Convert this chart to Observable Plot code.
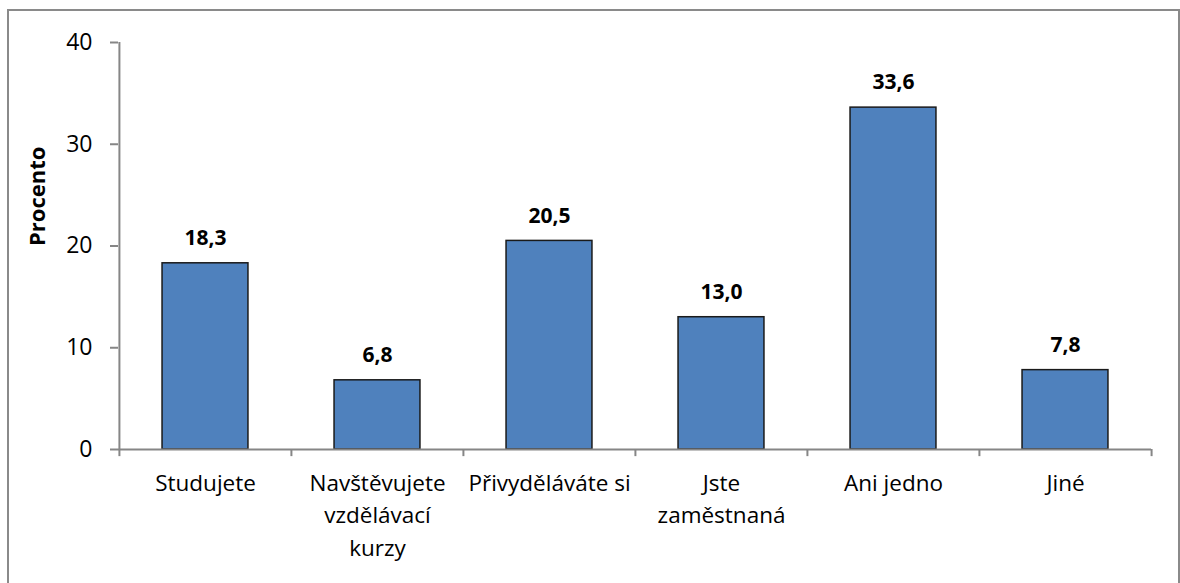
<!DOCTYPE html>
<html>
<head>
<meta charset="utf-8">
<script src="https://cdn.jsdelivr.net/npm/d3@7"></script>
<script src="https://cdn.jsdelivr.net/npm/@observablehq/plot@0.6"></script>
<style>
  html, body { margin: 0; padding: 0; background: #fff; }
  #wrap { position: relative; width: 1180px; height: 583px; overflow: hidden; }
  #border { position: absolute; left: 7px; top: 9px; width: 1173px; height: 600px; border: 2px solid #8a8a8a; box-sizing: border-box; pointer-events: none; }
</style>
</head>
<body>
<div id="wrap"><div id="border"></div></div>
<script>
const categories = ["Studujete", "Navštěvujete\nvzdělávací\nkurzy", "Přivyděláváte si", "Jste\nzaměstnaná", "Ani jedno", "Jiné"];
const values = [18.3, 6.8, 20.5, 13.0, 33.6, 7.8];
const yTicks = [0, 10, 20, 30, 40];
const yLabel = "Procento";

const data = categories.map((c, i) => ({cat: c, v: values[i]}));
const fmt = v => v.toFixed(1).replace(".", ",");
const axisColor = "#868686";
const bw = (1151 - 118) / categories.length;

const chart = Plot.plot({
  width: 1180,
  height: 583,
  marginLeft: 118,
  marginRight: 29,
  marginTop: 42,
  marginBottom: 134,
  style: {fontFamily: "'Open Sans', sans-serif", background: "transparent", overflow: "visible"},
  x: {domain: categories, padding: 0},
  y: {domain: [0, 40]},
  marks: [
    Plot.barY(data, {x: "cat", y: "v", fill: "#4F81BD", stroke: "#1a1a1a", strokeWidth: 1.5, insetLeft: bw / 4, insetRight: bw / 4}),
    Plot.ruleY([0], {stroke: axisColor, strokeWidth: 2}),
    Plot.ruleX([categories[0]], {stroke: axisColor, strokeWidth: 2, dx: -bw / 2}),
    Plot.ruleX(categories, {y1: 0, y2: -0.7, stroke: axisColor, strokeWidth: 2, dx: -bw / 2}),
    Plot.ruleX([categories[categories.length - 1]], {y1: 0, y2: -0.7, stroke: axisColor, strokeWidth: 2, dx: bw / 2}),
    Plot.axisY({ticks: yTicks, tickSize: 8, tickPadding: 18, fontSize: 23, stroke: axisColor, strokeWidth: 2, color: "#000", label: null}),
    Plot.axisX({tickSize: 0, tickPadding: 18, fontSize: 22.5, lineHeight: 1.45, color: "#000", label: null}),
    Plot.text(data, {x: "cat", y: "v", text: d => fmt(d.v), dy: -25, fontSize: 21, fontWeight: "bold", fill: "#000"}),
    Plot.text([yLabel], {frameAnchor: "left", dx: -81, rotate: -90, fontSize: 22, fontWeight: "bold", fill: "#000"})
  ]
});
document.getElementById("wrap").appendChild(chart);
chart.style.position = "absolute";
chart.style.left = "0";
chart.style.top = "0";
</script>
</body>
</html>
